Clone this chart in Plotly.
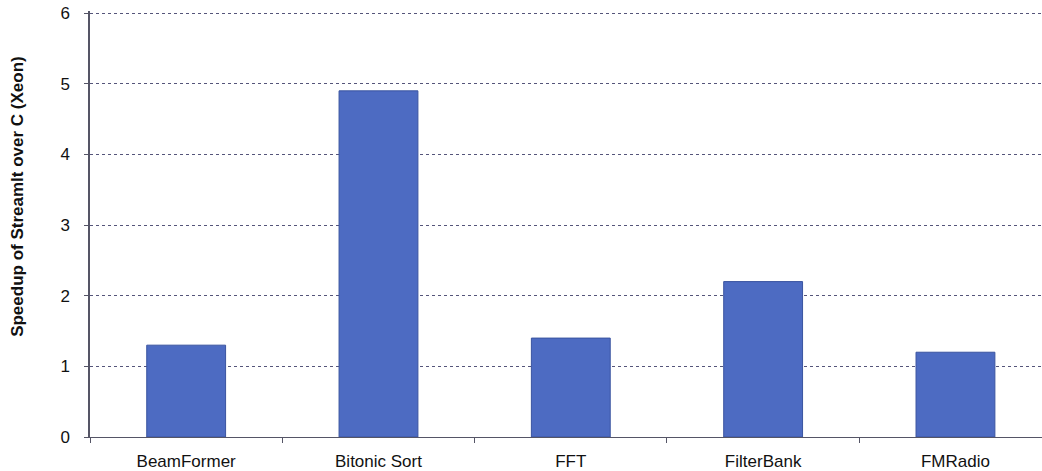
import plotly.graph_objects as go

benchmarks = ["BeamFormer", "Bitonic Sort", "FFT", "FilterBank", "FMRadio"]
speedup = [1.3, 4.9, 1.4, 2.2, 1.2]
y_ticks = [0, 1, 2, 3, 4, 5, 6]

fig = go.Figure()
fig.add_trace(go.Bar(
    x=benchmarks,
    y=speedup,
    marker=dict(color="#4d6bc2", line=dict(color="#3a54a0", width=1)),
))

fig.update_layout(
    width=1042,
    height=471,
    margin=dict(l=90, r=0, t=11, b=34, autoexpand=False),
    paper_bgcolor="white",
    plot_bgcolor="white",
    bargap=0.59,
    showlegend=False,
    font=dict(family="Liberation Sans, Arial, sans-serif", color="#111111"),
)

fig.update_xaxes(
    range=[-0.5, 4.45],
    automargin=False,
    showline=True,
    linecolor="#555566",
    linewidth=1,
    ticks="outside",
    tickson="boundaries",
    ticklen=5,
    tickcolor="#555566",
    showgrid=False,
    tickfont=dict(size=17),
    ticklabelstandoff=9,
)

fig.update_yaxes(
    range=[0, 6.03],
    automargin=False,
    tickvals=y_ticks,
    showline=True,
    linecolor="#555566",
    linewidth=1.5,
    ticks="outside",
    ticklen=4,
    tickcolor="#555566",
    showgrid=True,
    gridcolor="#55557a",
    griddash="dot",
    gridwidth=1,
    zeroline=False,
    tickfont=dict(size=17),
    ticklabelstandoff=11,
)

# Axis title, placed a little above the plot's vertical centre
fig.add_annotation(
    text="<b>Speedup of StreamIt over C (Xeon)</b>",
    textangle=-90,
    xref="paper", yref="paper",
    x=-0.0755, y=0.564,
    xanchor="center", yanchor="middle",
    showarrow=False,
    font=dict(size=17, family="Liberation Sans, Arial, sans-serif", color="#111111"),
)

fig.write_html("out.html")
